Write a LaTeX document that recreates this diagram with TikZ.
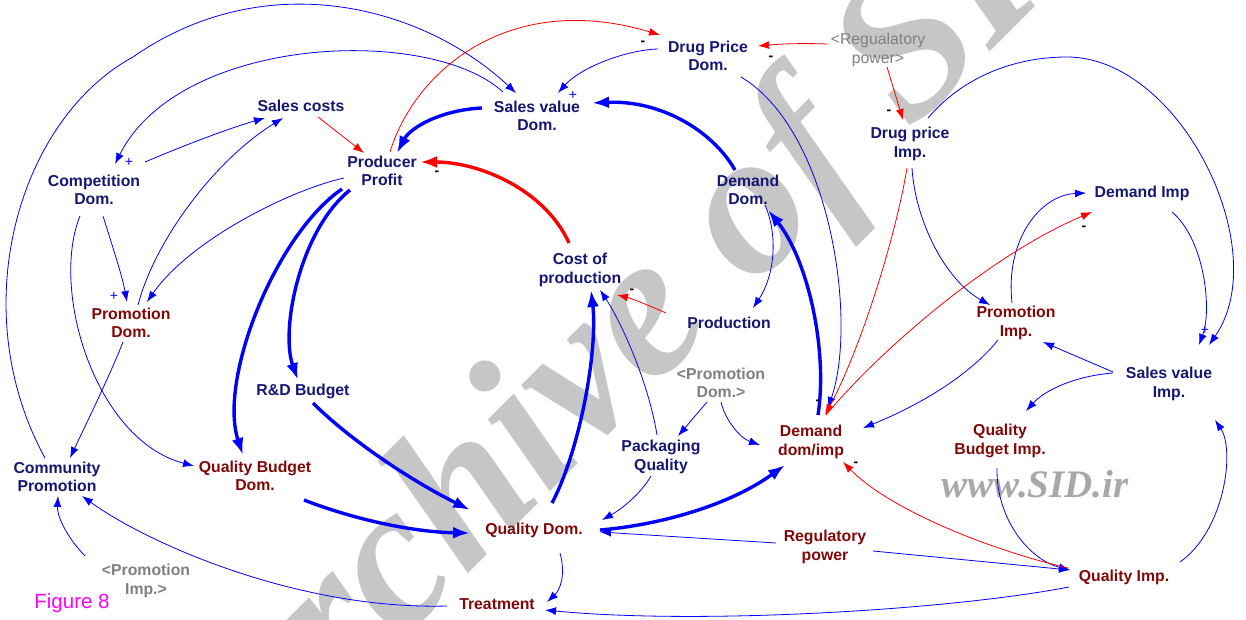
\documentclass[tikz,border=0pt]{standalone}
\usepackage{fontspec}
\setmainfont{Liberation Sans}
\newfontfamily\wmfont{Liberation Serif}
\usetikzlibrary{arrows.meta,calc}

\definecolor{navytxt}{RGB}{22,22,115}
\definecolor{redtxt}{RGB}{130,8,8}
\definecolor{shadowtxt}{RGB}{128,128,128}
\definecolor{wmgray}{RGB}{198,198,198}
\definecolor{sidgray}{RGB}{168,168,168}
\definecolor{figmag}{RGB}{255,0,255}

\begin{document}
\begin{tikzpicture}[x=1pt,y=-1pt,
  var/.style={font=\bfseries\fontsize{15.8}{18.5}\selectfont, align=center, inner sep=0pt, text=navytxt},
  varred/.style={var, text=redtxt},
  shadowvar/.style={var, text=shadowtxt},
  pol/.style={font=\fontsize{14}{14}\selectfont, inner sep=0pt},
  polplus/.style={pol, text=blue},
  polminus/.style={pol, font=\bfseries\fontsize{14}{14}\selectfont, text=black},
  link/.style={blue, line width=0.8pt, -{Latex[length=11pt,width=8pt]}},
  linkred/.style={link, red},
  flow/.style={blue, line width=3.4pt, -{Latex[length=17pt,width=12pt]}},
  flowred/.style={flow, red},
]
\useasboundingbox (0,0) rectangle (1246,620);
\fill[white] (0,0) rectangle (1246,620);
\clip (0,0) rectangle (1246,620);

% watermark
\node[rotate=45, text=wmgray, inner sep=0pt,
      font=\wmfont\bfseries\itshape\fontsize{206}{206}\selectfont] (wm) at (664,306) {Archive of SID};
\node[text=sidgray, inner sep=0pt,
      font=\wmfont\bfseries\itshape\fontsize{39}{39}\selectfont] (sid) at (1035,484) {www.SID.ir};

% variables
\node[var] (sc) at (301,106) {Sales costs};
\node[var] (pp) at (382,171) {Producer\\Profit};
\node[var] (svd) at (537,116) {Sales value\\Dom.};
\node[var] (dpd) at (708,56) {Drug Price\\Dom.};
\node[shadowvar, font=\fontsize{15.8}{18.5}\selectfont] (rpg) at (878,50) {<Regualatory\\power>};
\node[var] (dpi) at (910,144) {Drug price\\Imp.};
\node[var] (cd) at (94,190) {Competition\\Dom.};
\node[var] (dd) at (748,190) {Demand\\Dom.};
\node[var] (di) at (1142,193) {Demand Imp};
\node[var] (cp) at (580,270) {Cost of\\production};
\node[varred] (pd) at (131,323) {Promotion\\Dom.};
\node[var] (prod) at (729,323) {Production};
\node[varred] (pi) at (1016,323) {Promotion\\Imp.};
\node[var] (rd) at (303,391) {R\&D Budget};
\node[shadowvar] (pdg) at (721,383) {<Promotion\\Dom.>};
\node[var] (svi) at (1169,384) {Sales value\\Imp.};
\node[varred] (ddi) at (811,442) {Demand\\dom/imp};
\node[var] (pq) at (661,457) {Packaging\\Quality};
\node[varred] (qbi) at (1000,441) {Quality\\Budget Imp.};
\node[var] (comp) at (57,477) {Community\\Promotion};
\node[varred] (qbd) at (255,476) {Quality Budget\\Dom.};
\node[varred] (qd) at (534,530) {Quality Dom.};
\node[varred] (rp) at (825,547) {Regulatory\\power};
\node[shadowvar] (pig) at (146,581) {<Promotion\\Imp.>};
\node[varred] (tr) at (497,604) {Treatment};
\node[varred] (qi) at (1124,577) {Quality Imp.};
\node[text=figmag, inner sep=0pt, font=\fontsize{20.5}{20.5}\selectfont] (fig) at (72,603) {Figure 8};

% main loop flows
\draw[flow] ($(svd)+(-55,-8)$) .. controls (440,110) and (410,128) .. ($(pp)+(15,-18)$);
\draw[flow] ($(dd)+(-13,-20)$) .. controls (712,130) and (660,100) .. ($(svd)+(55,-13)$);
\draw[flow] ($(pp)+(-40,18)$) .. controls (275,235) and (218,380) .. ($(qbd)+(-12,-21)$);
\draw[flow] ($(pp)+(-32,19)$) .. controls (300,230) and (280,330) .. ($(rd)+(-5,-11)$);
\draw[flow] ($(rd)+(10,12)$) .. controls (350,440) and (410,480) .. ($(qd)+(-64,-20)$);
\draw[flow] ($(qbd)+(49,24)$) .. controls (350,518) and (410,532) .. ($(qd)+(-64,3)$);
\draw[flow] ($(qd)+(18,-27)$) .. controls (580,450) and (598,350) .. ($(cp)+(11,20)$);
\draw[flow] ($(qd)+(66,0)$) .. controls (660,525) and (730,505) .. ($(ddi)+(-26,23)$);
\draw[flow] ($(ddi)+(7,-27)$) .. controls (828,350) and (808,260) .. ($(dd)+(20,20)$);
\draw[flowred] ($(cp)+(-11,-27)$) .. controls (545,190) and (480,162) .. ($(pp)+(38,-9)$);

% domestic links
\draw[link] ($(cd)+(51,-28)$) .. controls (185,145) and (230,128) .. ($(sc)+(-36,12)$);
\draw[link] ($(pd)+(7,-18)$) .. controls (155,240) and (215,160) .. ($(sc)+(-18,12)$);
\draw[link] ($(cd)+(9,26)$) .. controls (112,245) and (122,275) .. ($(pd)+(-4,-21)$);
\draw[link] ($(pp)+(-38,7)$) .. controls (290,190) and (190,240) .. ($(pd)+(16,-21)$);
\draw[link] ($(svd)+(-34,-24)$) .. controls (430,25) and (180,35) .. ($(cd)+(21,-26)$);
\draw[link] ($(comp)+(-12,-19)$) .. controls (-37,308) and (19,119) .. (133,57)
            .. controls (265,-35) and (422,5) .. ($(svd)+(-21,-23)$);
\draw[link] ($(dpd)+(-50,-7)$) .. controls (625,50) and (580,68) .. ($(svd)+(21,-23)$);
\draw[link] ($(cd)+(-14,26)$) .. controls (50,290) and (95,440) .. ($(qbd)+(-61,-10)$);
\draw[link] ($(pd)+(-8,19)$) .. controls (110,375) and (88,420) .. ($(comp)+(13,-19)$);
\draw[link] ($(pig)+(-61,-25)$) .. controls (65,535) and (57,515) .. ($(comp)+(1,19)$);
\draw[link] ($(tr)+(-50,2)$) .. controls (300,610) and (150,545) .. ($(comp)+(25,19)$);
\draw[link] ($(qd)+(26,23)$) .. controls (566,575) and (560,590) .. ($(tr)+(50,-2)$);
\draw[link] ($(qi)+(-55,10)$) .. controls (950,610) and (700,625) .. ($(tr)+(48,6)$);
\draw[link] ($(rp)+(-49,-4)$) -- ($(qd)+(66,2)$);
\draw[link] ($(rp)+(48,4)$) -- ($(qi)+(-54,-7)$);
\draw[link] ($(pq)+(-10,19)$) .. controls (640,495) and (620,510) .. ($(qd)+(68,-10)$);
\draw[link] ($(pq)+(-4,-22)$) .. controls (648,380) and (620,320) .. ($(cp)+(20,20)$);
\draw[link] ($(pdg)+(-14,19)$) -- ($(pq)+(17,-21)$);
\draw[link] ($(pdg)+(0,19)$) .. controls (725,420) and (740,438) .. ($(ddi)+(-51,3)$);
\draw[link] ($(dd)+(17,15)$) .. controls (778,235) and (775,275) .. ($(prod)+(24,-15)$);
\draw[link] ($(dpd)+(33,21)$) .. controls (830,130) and (858,320) .. ($(ddi)+(17,-34)$);

% import links
\draw[link] ($(pi)+(-18,17)$) .. controls (970,375) and (920,405) .. ($(ddi)+(52,-14)$);
\draw[link] ($(dpi)+(2,24)$) .. controls (915,220) and (945,280) .. ($(pi)+(-26,-18)$);
\draw[link] ($(svi)+(-56,-12)$) -- ($(pi)+(27,19)$);
\draw[link] ($(svi)+(-56,-11)$) .. controls (1075,376) and (1045,390) .. ($(qbi)+(26,-30)$);
\draw[link] ($(qbi)+(-3,27)$) .. controls (996,520) and (1030,560) .. ($(qi)+(-54,-7)$);
\draw[link] ($(qi)+(56,-15)$) .. controls (1225,530) and (1235,450) .. ($(svi)+(46,36)$);
\draw[link] ($(pi)+(-4,-20)$) .. controls (1005,240) and (1040,195) .. ($(di)+(-56,0)$);
\draw[link] ($(di)+(30,19)$) .. controls (1205,240) and (1212,310) .. ($(svi)+(30,-39)$);
\draw[link] ($(dpi)+(18,-26)$) .. controls (960,80) and (1010,57) .. (1067,57)
            .. controls (1180,57) and (1275,250) .. ($(svi)+(40,-39)$);

% negative links
\draw[linkred] ($(pp)+(8,-19)$) .. controls (415,70) and (510,-10) .. ($(dpd)+(-48,-21)$);
\draw[linkred] ($(sc)+(17,11)$) -- ($(pp)+(-18,-18)$);
\draw[linkred] ($(rpg)+(-50,-6)$) .. controls (800,43) and (780,44) .. ($(dpd)+(50,-10)$);
\draw[linkred] ($(rpg)+(9,17)$) -- ($(dpi)+(-7,-24)$);
\draw[linkred] ($(prod)+(-63,-10)$) .. controls (648,305) and (630,298) .. ($(cp)+(37,25)$);
\draw[linkred] ($(dpi)+(-3,24)$) .. controls (895,240) and (860,350) .. ($(ddi)+(14,-27)$);
\draw[linkred] ($(ddi)+(15,-27)$) .. controls (880,350) and (990,255) .. ($(di)+(-50,19)$);
\draw[linkred] ($(qi)+(-56,-9)$) .. controls (990,550) and (890,510) .. ($(ddi)+(32,20)$);

% link polarities
\node[polplus] (p1) at (129,162) {+};
\node[polplus] (p2) at (114,296) {+};
\node[polplus] (p3) at (573,95) {+};
\node[polplus] (p4) at (1205,330) {+};
\node[polminus] (m1) at (437,173) {-};
\node[polminus] (m2) at (643,43) {-};
\node[polminus] (m3) at (771,58) {-};
\node[polminus] (m4) at (889,112) {-};
\node[polminus] (m5) at (632,291) {-};
\node[polminus] (m6) at (1084,228) {-};
\node[polminus] (m7) at (856,464) {-};
\node[polminus] (m8) at (818,402) {-};
\end{tikzpicture}
\end{document}
